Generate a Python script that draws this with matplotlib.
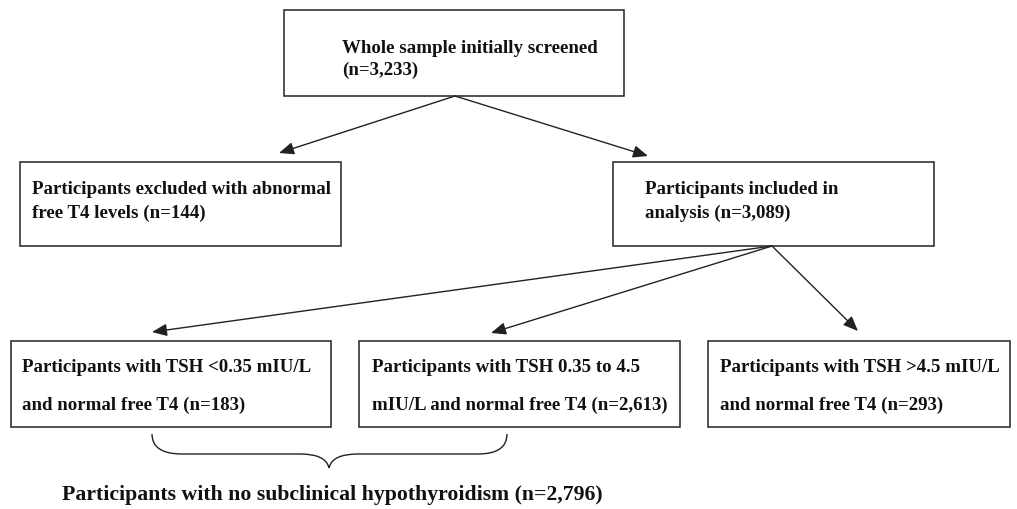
import matplotlib.pyplot as plt
from matplotlib.patches import Rectangle, FancyArrowPatch, PathPatch
from matplotlib.path import Path

# Text of each box in the flow
top_label = ['Whole sample initially screened', '(n=3,233)']
excluded_label = ['Participants excluded with abnormal', 'free T4 levels (n=144)']
included_label = ['Participants included in', 'analysis (n=3,089)']
low_tsh_label = ['Participants with TSH <0.35 mIU/L', 'and normal free T4 (n=183)']
mid_tsh_label = ['Participants with TSH 0.35 to 4.5', 'mIU/L and normal free T4 (n=2,613)']
high_tsh_label = ['Participants with TSH >4.5 mIU/L', 'and normal free T4 (n=293)']
summary_label = 'Participants with no subclinical hypothyroidism (n=2,796)'

plt.rcParams['font.family'] = ['Liberation Serif', 'DejaVu Serif']

fig = plt.figure(figsize=(10.17, 5.09), dpi=100)
ax = fig.add_axes([0, 0, 1, 1])
ax.set_xlim(0, 1017)
ax.set_ylim(509, 0)
ax.axis('off')

line_col = '#222222'


def box(x0, y0, x1, y1, lines, tx, ty, gap):
    ax.add_patch(Rectangle((x0, y0), x1 - x0, y1 - y0, fill=False,
                           edgecolor=line_col, lw=1.1))
    for i, t in enumerate(lines):
        ax.text(tx, ty + i * gap, t, fontsize=13.6, fontweight='bold',
                color='#111111', ha='left', va='center')


def arrow(p0, p1):
    ax.add_patch(FancyArrowPatch(p0, p1, arrowstyle='-|>,head_length=0.6,head_width=0.25',
                                 mutation_scale=15, color=line_col, lw=1.0,
                                 shrinkA=0, shrinkB=0))


box(284, 10, 624, 96, top_label, 342, 48, 22)
box(20, 162, 341, 246, excluded_label, 32, 190, 23)
box(613, 162, 934, 246, included_label, 645, 190, 23)
box(11, 341, 331, 427, low_tsh_label, 22, 368, 37)
box(359, 341, 680, 427, mid_tsh_label, 372, 368, 37)
box(708, 341, 1010, 427, high_tsh_label, 720, 368, 37)

arrow((455, 96), (279, 153))
arrow((455, 96), (648, 156))
arrow((772, 246), (152, 332))
arrow((772, 246), (491, 333))
arrow((772, 246), (858, 331))

# curly brace under the first two boxes
verts = [(152, 434), (152, 454), (182, 454), (300, 454),
         (326, 454), (329, 468),
         (332, 454), (358, 454), (478, 454),
         (507, 454), (507, 434)]
codes = [Path.MOVETO, Path.CURVE3, Path.CURVE3, Path.LINETO,
         Path.CURVE3, Path.CURVE3,
         Path.CURVE3, Path.CURVE3, Path.LINETO,
         Path.CURVE3, Path.CURVE3]
ax.add_patch(PathPatch(Path(verts, codes), fill=False, edgecolor=line_col, lw=1.0))

ax.text(62, 495, summary_label, fontsize=15.7, fontweight='bold',
        color='#111111', ha='left', va='center')

fig.savefig('out.png', dpi=100)
